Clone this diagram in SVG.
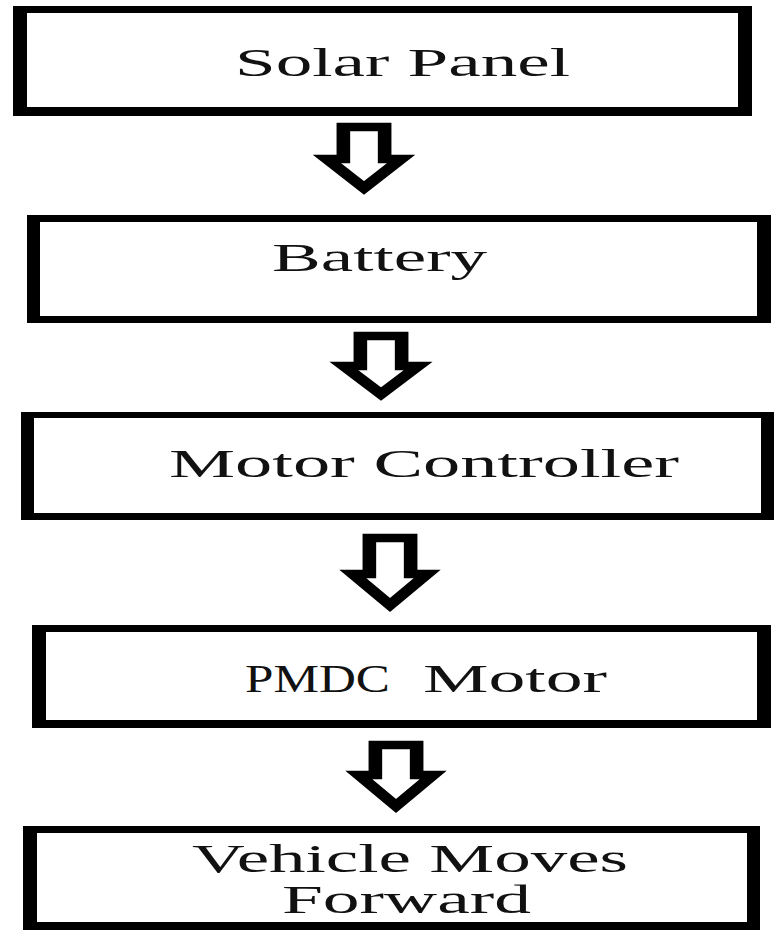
<svg xmlns="http://www.w3.org/2000/svg" width="781" height="943" viewBox="0 0 781 943">
<style>
.box{fill:#000;fill-rule:evenodd}
.lbl{font-family:"Liberation Serif","Times New Roman",serif;font-size:40px;fill:#111}
.arrow{fill:#fff;stroke:#000;stroke-width:8.5;stroke-linejoin:miter;stroke-miterlimit:10}
</style>
<rect width="781" height="943" fill="#fff"/>
<g id="solar-panel">
<path class="box" d="M13,6H752V116H13Z M27,13V107H738V13Z"/>
<text class="lbl" x="235" y="76" textLength="335" lengthAdjust="spacingAndGlyphs">Solar Panel</text>
</g>
<g id="battery">
<path class="box" d="M27,215H771V323H27Z M40,222V316H757V222Z"/>
<text class="lbl" x="272" y="271" textLength="215" lengthAdjust="spacingAndGlyphs">Battery</text>
</g>
<g id="motor-controller">
<path class="box" d="M21,412H774V520H21Z M34,418V513H761V418Z"/>
<text class="lbl" x="169" y="477" textLength="510" lengthAdjust="spacingAndGlyphs">Motor Controller</text>
</g>
<g id="pmdc-motor">
<path class="box" d="M32,625H771V728H32Z M46,632V720H757V632Z"/>
<text class="lbl" y="692"><tspan x="245" textLength="145" lengthAdjust="spacingAndGlyphs">PMDC</tspan> <tspan x="423" textLength="184" lengthAdjust="spacingAndGlyphs">Motor</tspan></text>
</g>
<g id="vehicle-moves-forward">
<path class="box" d="M23,826H760V930H23Z M37,833V922H747V833Z"/>
<text class="lbl"><tspan x="192" y="872" textLength="436" lengthAdjust="spacingAndGlyphs">Vehicle Moves</tspan><tspan x="282" y="913" textLength="249" lengthAdjust="spacingAndGlyphs">Forward</tspan></text>
</g>
<g id="connectors">
<path class="arrow" transform="translate(364,0) scale(1.6,1)" d="M-12.9,127V159H-23.2L0,188L23.2,159H12.9V127Z"/>
<path class="arrow" transform="translate(381,0) scale(1.6,1)" d="M-12.9,336V366H-23.2L0,394L23.2,366H12.9V336Z"/>
<path class="arrow" transform="translate(390,0) scale(1.6,1)" d="M-12.9,538V574H-23.2L0,605L23.2,574H12.9V538Z"/>
<path class="arrow" transform="translate(396,0) scale(1.6,1)" d="M-12.9,745V775H-23.2L0,806L23.2,775H12.9V745Z"/>
</g>
</svg>
